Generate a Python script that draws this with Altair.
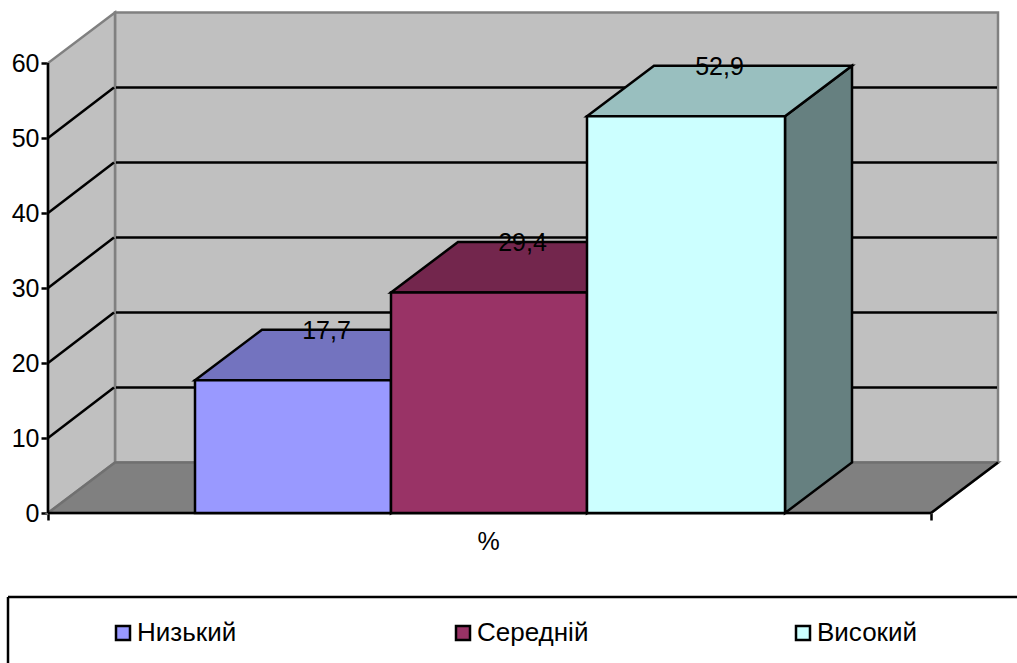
import altair as alt
import pandas as pd

# Survey result: share of respondents per level, in percent
levels = ["Низький", "Середній", "Високий"]
values = [17.7, 29.4, 52.9]
labels = ["17,7", "29,4", "52,9"]
front_colors = ["#9999FF", "#993366", "#CCFFFF"]
top_colors = ["#7373BF", "#73264D", "#99BFBF"]
side_colors = ["#7373BF", "#73264D", "#668080"]
y_ticks = [0, 10, 20, 30, 40, 50, 60]
grid_levels = [10, 20, 30, 40, 50]

FONT = "Liberation Sans"
FONT_SIZE = 25
LINE = 2.5
W, H = 1017, 663

# Oblique projection used for the box: one step of depth moves right and up
DX = 67
DV = 50.5 / 7.5

# Horizontal layout of the floor and of the three touching columns
FLOOR_L, FLOOR_R = 48, 931
BAR_EDGES = [195, 391, 587, 785]

X = alt.Scale(domain=[0, W], nice=False, zero=False)
Y = alt.Scale(domain=[-20, 68.4], nice=False, zero=False)

# Every layer shares the same axis definitions so that they merge into one
X_AXIS = alt.Axis(
    orient="bottom", offset=-150, values=[FLOOR_L, FLOOR_R], labels=False,
    domain=False, grid=False, tickColor="black", tickWidth=LINE, tickSize=7,
    titleFont=FONT, titleFontSize=FONT_SIZE, titleFontWeight="normal", titleColor="black",
    titleX=488, titleY=16,
)
Y_AXIS = alt.Axis(
    orient="left", offset=-48, values=y_ticks, domain=False, grid=False,
    tickColor="black", tickWidth=LINE, tickSize=7, labelPadding=2,
    labelFont=FONT, labelFontSize=FONT_SIZE, labelColor="black",
)


def x_enc(field):
    return alt.X(field, scale=X, axis=X_AXIS, title="%")


def y_enc(field):
    return alt.Y(field, scale=Y, axis=Y_AXIS, title=None)


def flat_face(x0, x1, v):
    """Horizontal parallelogram at level v, from the front edge to the back edge."""
    return pd.DataFrame({
        "x": [x0, x0 + DX, x1, x1 + DX],
        "low": [v, v, v, v + DV],
        "high": [v, v + DV, v + DV, v + DV],
    })


def upright_face(x, v0, v1):
    """Vertical parallelogram receding from x between levels v0 and v1."""
    return pd.DataFrame({
        "x": [x, x + DX],
        "low": [v0, v0 + DV],
        "high": [v1, v1 + DV],
    })


def area(df, fill, stroke, width=LINE):
    return alt.Chart(df).mark_area(
        orient="vertical", fill=fill, stroke=stroke, strokeWidth=width,
        strokeJoin="miter", opacity=1,
    ).encode(
        x=x_enc("x:Q"),
        y=y_enc("low:Q"),
        y2="high:Q",
    )


def rules(df, color, width=LINE):
    return alt.Chart(df).mark_rule(color=color, strokeWidth=width).encode(
        x=x_enc("x:Q"),
        x2="x2:Q",
        y=y_enc("y:Q"),
        y2="y2:Q",
    )


# Walls and floor
back_wall = area(
    pd.DataFrame({"x": [FLOOR_L + DX, FLOOR_R + DX], "low": [DV, DV], "high": [60 + DV, 60 + DV]}),
    "#C0C0C0", "#808080",
)
left_wall = area(upright_face(FLOOR_L, 0, 60), "#C0C0C0", "#808080")
floor = area(flat_face(FLOOR_L, FLOOR_R, 0), "#808080", "#707070")

# Gridlines run across the left wall, then along the back wall
grid_side = rules(pd.DataFrame({
    "x": [FLOOR_L] * len(grid_levels),
    "x2": [FLOOR_L + DX - 1] * len(grid_levels),
    "y": grid_levels,
    "y2": [g + DV for g in grid_levels],
}), "black")
grid_back = rules(pd.DataFrame({
    "x": [FLOOR_L + DX + 1] * len(grid_levels),
    "x2": [FLOOR_R + DX - 1] * len(grid_levels),
    "y": [g + DV for g in grid_levels],
    "y2": [g + DV for g in grid_levels],
}), "black")

# Axis lines and the floor's open edge
axis_lines = rules(pd.DataFrame({
    "x": [FLOOR_L, FLOOR_L, FLOOR_R],
    "x2": [FLOOR_L, FLOOR_R, FLOOR_R + DX],
    "y": [0, 0, 0],
    "y2": [60, 0, DV],
}), "black")

# Column tops and the only column side that stays visible
hidden_faces = []
for i, v in enumerate(values):
    x0, x1 = BAR_EDGES[i], BAR_EDGES[i + 1]
    hidden_faces.append(area(upright_face(x1, 0, v), side_colors[i], "black"))
    hidden_faces.append(area(flat_face(x0, x1, v), top_colors[i], "black"))

bars = pd.DataFrame({
    "level": levels,
    "value": values,
    "label": labels,
    "x0": BAR_EDGES[:-1],
    "x1": BAR_EDGES[1:],
    "base": [0, 0, 0],
})
bars["label_x"] = (bars["x0"] + bars["x1"]) / 2 + DX / 2
bars["label_y"] = bars["value"] + DV

# Front faces own the colour scale, so the legend comes from them
fronts = alt.Chart(bars).mark_rect(stroke="black", strokeWidth=LINE, opacity=1).encode(
    x=x_enc("x0:Q"),
    x2="x1:Q",
    y=y_enc("value:Q"),
    y2="base:Q",
    color=alt.Color(
        "level:N",
        sort=levels,
        scale=alt.Scale(domain=levels, range=front_colors),
        legend=alt.Legend(
            orient="none", legendX=110, legendY=620, direction="horizontal",
            columns=3, title=None, gridAlign="all", columnPadding=201,
            symbolType="square", symbolSize=196, symbolOpacity=1,
            symbolStrokeColor="black", symbolStrokeWidth=LINE, symbolOffset=0,
            labelFont=FONT, labelFontSize=26, labelColor="black", labelOffset=1,
            labelOpacity=1,
        ),
    ),
)

value_labels = alt.Chart(bars).mark_text(
    font=FONT, fontSize=FONT_SIZE, color="black", baseline="middle", align="center", dy=1
).encode(
    x=x_enc("label_x:Q"),
    y=y_enc("label_y:Q"),
    text="label:N",
)

# Frame of the legend, running off the right and bottom edges
legend_frame = alt.Chart(pd.DataFrame({"k": [0]})).mark_rule(color="black", strokeWidth=LINE).encode(
    x=alt.value(8), x2=alt.value(W), y=alt.value(597)
)
legend_frame_left = alt.Chart(pd.DataFrame({"k": [0]})).mark_rule(color="black", strokeWidth=LINE).encode(
    x=alt.value(8), y=alt.value(597), y2=alt.value(H)
)

chart = alt.layer(
    back_wall, left_wall, floor, grid_side, grid_back, axis_lines,
    *hidden_faces, fronts, value_labels, legend_frame, legend_frame_left,
).properties(
    width=W, height=H, padding=0, autosize=alt.AutoSizeParams(type="none"),
    background="white",
).configure_view(stroke=None)

chart.save("out.html", embed_options={"renderer": "svg", "actions": False})
